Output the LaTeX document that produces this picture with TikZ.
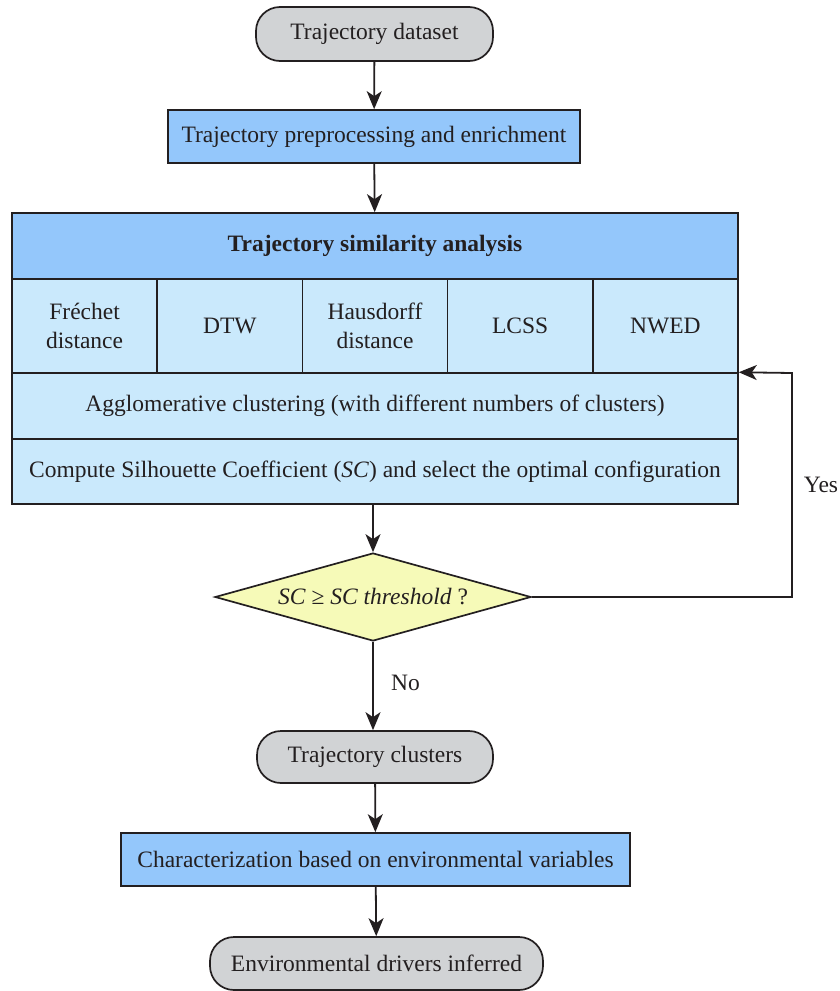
\documentclass[tikz,border=0pt]{standalone}
\usepackage{fontspec}
\setmainfont{Liberation Serif}
\usetikzlibrary{shapes.geometric,arrows.meta}
\definecolor{termgrey}{RGB}{209,211,213}
\definecolor{stepblue}{RGB}{148,199,251}
\definecolor{cellblue}{RGB}{202,233,252}
\definecolor{decyellow}{RGB}{246,250,184}
\definecolor{edge}{RGB}{35,31,32}
\begin{document}
\begin{tikzpicture}[x=1pt,y=-1pt,
  txt/.style={font=\fontsize{23.5}{29}\selectfont, inner sep=0pt, align=center, text=edge},
  terminal/.style={txt, draw=edge, line width=1.7pt, fill=termgrey, rounded corners=24pt},
  stepbox/.style={txt, draw=edge, line width=1.7pt, fill=stepblue},
  cellbox/.style={txt, draw=edge, line width=1.5pt, fill=cellblue},
  decision/.style={txt, draw=edge, line width=1.7pt, fill=decyellow, shape=diamond,
    aspect=3.59, minimum width=316pt, minimum height=88pt},
  flow/.style={draw=edge, line width=1.8pt, -{Stealth[length=18pt,width=15pt,inset=5pt]}},
  lbl/.style={font=\fontsize{23.5}{28}\selectfont, text=edge}]
\useasboundingbox (0,0) rectangle (839,991);

% main column
\node[terminal, minimum width=237pt, minimum height=54pt] (data) at (374.5,34) {Trajectory dataset};
\node[stepbox, minimum width=412pt, minimum height=53pt] (prep) at (374,136.5) {Trajectory preprocessing and enrichment};

% similarity analysis block
\node[stepbox, minimum width=726pt, minimum height=66pt, font=\bfseries\fontsize{23.5}{29}\selectfont] (head) at (375,246) {Trajectory similarity analysis};
\node[cellbox, minimum width=145.2pt, minimum height=94pt] (frechet) at (84.6,326) {Fréchet\\distance};
\node[cellbox, minimum width=145.2pt, minimum height=94pt] (dtw) at (229.8,326) {DTW};
\node[cellbox, minimum width=145.2pt, minimum height=94pt] (haus) at (375,326) {Hausdorff\\distance};
\node[cellbox, minimum width=145.2pt, minimum height=94pt] (lcss) at (520.2,326) {LCSS};
\node[cellbox, minimum width=145.2pt, minimum height=94pt] (nwed) at (665.4,326) {NWED};
\node[cellbox, minimum width=726pt, minimum height=66pt] (agg) at (375,406) {Agglomerative clustering (with different numbers of clusters)};
\node[cellbox, minimum width=726pt, minimum height=65pt, line width=1.9pt] (sc) at (375,471.5) {Compute Silhouette Coefficient (\textit{SC}) and select the optimal configuration};

% decision
\node[decision] (dec) at (373,597) {\textit{SC} ≥ \textit{SC threshold} ?};

\node[terminal, minimum width=236pt, minimum height=52pt] (clus) at (375,757) {Trajectory clusters};
\node[stepbox, minimum width=509pt, minimum height=53pt] (char) at (375.5,859.5) {Characterization based on environmental variables};
\node[terminal, minimum width=333pt, minimum height=53pt] (env) at (376.5,963.5) {Environmental drivers inferred};

% connectors
\draw[flow] (data) -- (prep);
\draw[flow] (prep) -- (head);
\draw[flow] (sc.south -| dec.north) -- (dec.north);
\draw[flow] (dec.south) -- node[lbl, right=14pt, pos=0.47] {No} (dec.south |- clus.north);
\draw[flow] (clus) -- (char);
\draw[flow] (char) -- (env);

% loop back on "Yes"
\coordinate (loop) at (792,373);
\draw[flow] (dec.east) -| (loop) -- (agg.north east);
\node[lbl] (yes) at (821,485) {Yes};
\end{tikzpicture}
\end{document}
